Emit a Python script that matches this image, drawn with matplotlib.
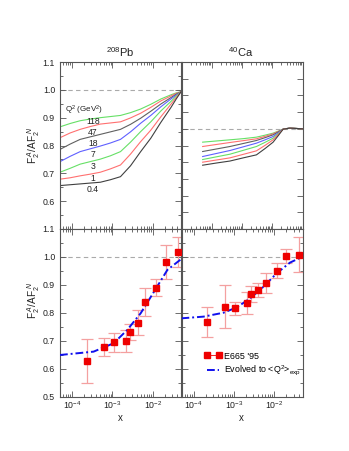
import numpy as np
import matplotlib
matplotlib.use("Agg")
import matplotlib.pyplot as plt
from matplotlib.ticker import LogLocator, MultipleLocator, NullFormatter, FormatStrFormatter
from matplotlib.lines import Line2D

plt.rcParams['font.family'] = ['Liberation Sans', 'DejaVu Sans']
plt.rcParams['mathtext.fontset'] = 'custom'
plt.rcParams['mathtext.rm'] = 'Liberation Sans'
plt.rcParams['mathtext.it'] = 'Liberation Sans:italic'
plt.rcParams['mathtext.bf'] = 'Liberation Sans:bold'

# ---------------- data ----------------
q2_labels = ["118", "47", "18", "7", "3", "1", "0.4"]
curve_colors = ["#66e066", "#ff7070", "#606060", "#6060ff", "#66e066", "#ff7070", "#404040"]

# Pb, top panel: ratio vs x for each Q^2
pb_x = [5e-5, 8.9e-5, 1.58e-4, 2.8e-4, 5e-4, 8.9e-4, 1.58e-3, 2.8e-3, 5e-3,
        8.9e-3, 1.58e-2, 2.8e-2, 3.8e-2, 5e-2]
pb_curves = [
    [0.867, 0.879, 0.889, 0.895, 0.900, 0.904, 0.908, 0.918, 0.931, 0.948, 0.967, 0.982, 0.989, 0.993],
    [0.828, 0.845, 0.858, 0.868, 0.877, 0.881, 0.885, 0.899, 0.916, 0.937, 0.960, 0.978, 0.987, 0.993],
    [0.786, 0.805, 0.822, 0.831, 0.840, 0.849, 0.858, 0.876, 0.898, 0.923, 0.949, 0.972, 0.984, 0.993],
    [0.742, 0.761, 0.778, 0.788, 0.798, 0.809, 0.822, 0.849, 0.880, 0.908, 0.939, 0.967, 0.981, 0.993],
    [0.704, 0.718, 0.733, 0.742, 0.751, 0.763, 0.778, 0.812, 0.850, 0.885, 0.924, 0.958, 0.977, 0.993],
    [0.679, 0.684, 0.691, 0.697, 0.704, 0.716, 0.730, 0.769, 0.814, 0.855, 0.903, 0.948, 0.972, 0.993],
    [0.656, 0.659, 0.662, 0.665, 0.668, 0.677, 0.688, 0.727, 0.778, 0.826, 0.883, 0.936, 0.967, 0.993],
]

# Ca, top panel
ca_x = [5e-5, 1.41e-4, 4e-4, 1.1e-3, 3e-3, 5.8e-3, 1.07e-2, 1.58e-2, 2.3e-2, 3.8e-2, 1e-1]
ca_curves = [
    [0.920, 0.927, 0.934, 0.941, 0.950, 0.962, 0.974, 0.986, 0.998, 1.004, 1.000],
    [0.894, 0.906, 0.918, 0.929, 0.940, 0.955, 0.970, 0.984, 0.998, 1.004, 1.000],
    [0.864, 0.879, 0.894, 0.912, 0.930, 0.947, 0.964, 0.981, 0.998, 1.004, 1.000],
    [0.834, 0.852, 0.870, 0.892, 0.914, 0.934, 0.954, 0.976, 0.998, 1.004, 1.000],
    [0.816, 0.832, 0.848, 0.871, 0.894, 0.919, 0.944, 0.971, 0.998, 1.004, 1.000],
    [0.800, 0.813, 0.826, 0.847, 0.868, 0.901, 0.934, 0.966, 0.998, 1.004, 1.000],
    [0.782, 0.795, 0.807, 0.826, 0.844, 0.882, 0.920, 0.959, 0.998, 1.004, 1.000],
]

# E665 '95 data, Pb
pb_dx = [2.3e-4, 6.3e-4, 1.12e-3, 2.2e-3, 2.7e-3, 4.2e-3, 6.4e-3, 1.18e-2, 2.1e-2, 4.3e-2]
pb_dy = [0.628, 0.679, 0.695, 0.699, 0.732, 0.765, 0.840, 0.891, 0.983, 1.018]
pb_de = [0.079, 0.032, 0.035, 0.040, 0.030, 0.045, 0.050, 0.030, 0.060, 0.053]
# evolved curve, Pb
pb_ex = [5e-5, 3.4e-4, 1.07e-3, 2.3e-3, 5e-3, 1.07e-2, 2.3e-2, 5e-2]
pb_ey = [0.650, 0.662, 0.692, 0.739, 0.799, 0.876, 0.954, 0.992]

# E665 '95 data, Ca
ca_dx = [2.2e-4, 6.0e-4, 1.08e-3, 2.1e-3, 2.6e-3, 4.0e-3, 6.2e-3, 1.15e-2, 2.0e-2, 4.1e-2]
ca_dy = [0.767, 0.823, 0.817, 0.836, 0.868, 0.882, 0.907, 0.951, 1.005, 1.008]
ca_de = [0.053, 0.077, 0.024, 0.040, 0.030, 0.024, 0.035, 0.027, 0.025, 0.063]
# evolved curve, Ca
ca_ex = [5e-5, 1.75e-4, 5.5e-4, 1.17e-3, 2.5e-3, 5.4e-3, 1.15e-2, 2.45e-2, 5e-2]
ca_ey = [0.781, 0.787, 0.801, 0.820, 0.852, 0.894, 0.942, 0.980, 1.001]

# ---------------- figure ----------------
fig = plt.figure(figsize=(3.49, 4.51), dpi=100)
L1, L2, W = 60/349, 181.5/349, 121/349
B_top, H_top = 1 - 229/451, 167/451
B_bot, H_bot = 1 - 397/451, 168/451
ax_pb_t = fig.add_axes([L1, B_top, W, H_top])
ax_ca_t = fig.add_axes([L2, B_top, W, H_top])
ax_pb_b = fig.add_axes([L1, B_bot, W, H_bot])
ax_ca_b = fig.add_axes([L2, B_bot, W, H_bot])

frame_col = "#555555"
fs = 6.3

def style(ax, xlim, ylim, ymaj, ymin, xlabels, ylabels):
    ax.set_xscale('log')
    ax.set_xlim(*xlim)
    ax.set_ylim(*ylim)
    ax.xaxis.set_major_locator(LogLocator(base=10, numticks=20))
    ax.xaxis.set_minor_locator(LogLocator(base=10, subs=np.arange(2, 10), numticks=20))
    ax.xaxis.set_minor_formatter(NullFormatter())
    ax.yaxis.set_major_locator(MultipleLocator(ymaj))
    if ymin:
        ax.yaxis.set_minor_locator(MultipleLocator(ymin))
    ax.yaxis.set_major_formatter(FormatStrFormatter('%.1f'))
    ax.tick_params(which='both', direction='in', top=True, right=True,
                   colors=frame_col, labelcolor='#222222', labelsize=fs, width=0.6)
    ax.tick_params(which='major', length=4)
    ax.tick_params(which='minor', length=2)
    ax.tick_params(axis='x', pad=2)
    if not xlabels:
        ax.tick_params(axis='x', labelbottom=False)
    if not ylabels:
        ax.tick_params(axis='y', labelleft=False)
    for s in ax.spines.values():
        s.set_color(frame_col)
        s.set_linewidth(0.8)
    ax.axhline(1.0, color='#aaaaaa', ls=(0, (4, 3)), lw=0.8, zorder=1)

style(ax_pb_t, (5e-5, 5e-2), (0.5, 1.1), 0.1, 0.05, False, True)
style(ax_ca_t, (1e-5, 1e-1), (0.4, 1.4), 0.1, None, False, False)
style(ax_pb_b, (5e-5, 5e-2), (0.5, 1.1), 0.1, 0.05, True, True)
style(ax_ca_b, (5e-5, 5e-2), (0.5, 1.1), 0.1, 0.05, True, False)

# hide 0.5 label on top-left so it doesn't collide with bottom 1.1
ax_pb_t.set_yticks([0.6, 0.7, 0.8, 0.9, 1.0, 1.1])

# top panels curves
for ys, c in zip(pb_curves, curve_colors):
    ax_pb_t.plot(pb_x, ys, color=c, lw=0.8)
for ys, c in zip(ca_curves, curve_colors):
    ax_ca_t.plot(ca_x, ys, color=c, lw=0.8)

# Q2 labels on Pb panel
ax_pb_t.text(2.0e-4, 0.925, r"Q$^2$ (GeV$^2$)", fontsize=5.8, ha='center', va='center', color='#222222')
lab_y = [0.887, 0.848, 0.808, 0.766, 0.724, 0.681, 0.641]
for t, yy in zip(q2_labels, lab_y):
    ax_pb_t.text(3.3e-4, yy, t, fontsize=6.2, ha='center', va='center', color='#222222')

# bottom panels
ecol = '#f4a0a0'
for ax, dx, dy, de, ex, ey in [(ax_pb_b, pb_dx, pb_dy, pb_de, pb_ex, pb_ey),
                                (ax_ca_b, ca_dx, ca_dy, ca_de, ca_ex, ca_ey)]:
    ax.errorbar(dx, dy, yerr=de, fmt='none', ecolor=ecol, elinewidth=0.9, capsize=4, capthick=0.9, zorder=2)
    ax.plot(dx, dy, 's', color='#ee0000', ms=4.8, zorder=4)
    ax.plot(ex, ey, color='#1010ee', lw=1.4, ls=(0, (4, 1.5, 1, 1.5)), zorder=3)

handles = [Line2D([], [], color='#ee0000', marker='s', ms=4.8, lw=0.6),
           Line2D([], [], color='#1010ee', lw=1.4, ls=(0, (4, 1.5, 1, 1.5)))]
ax_ca_b.legend(handles, ["E665 '95", r"Evolved to <Q$^2$>$_{\rm exp}$"], loc='lower left',
               bbox_to_anchor=(0.16, 0.095), frameon=False, fontsize=6.4, numpoints=2,
               handlelength=1.9, handletextpad=0.3, labelspacing=0.35, borderaxespad=0)

# titles and labels
fig.text(120/349, 1 - 52/451, r"$^{208}$Pb", fontsize=8, ha='center', va='center', color='#222222')
fig.text(241/349, 1 - 52/451, r"$^{40}$Ca", fontsize=8, ha='center', va='center', color='#222222')
ylab = r"F$_2^{\;A}$/AF$_2^{\;N}$"
fig.text(34/349, 1 - 145/451, ylab, fontsize=7.2, rotation=90, ha='center', va='center', color='#222222')
fig.text(34/349, 1 - 300/451, ylab, fontsize=7.2, rotation=90, ha='center', va='center', color='#222222')
fig.text(120/349, 1 - 418/451, "x", fontsize=7, ha='center', va='center', color='#222222')
fig.text(241/349, 1 - 418/451, "x", fontsize=7, ha='center', va='center', color='#222222')

fig.savefig("out.png", dpi=100)
